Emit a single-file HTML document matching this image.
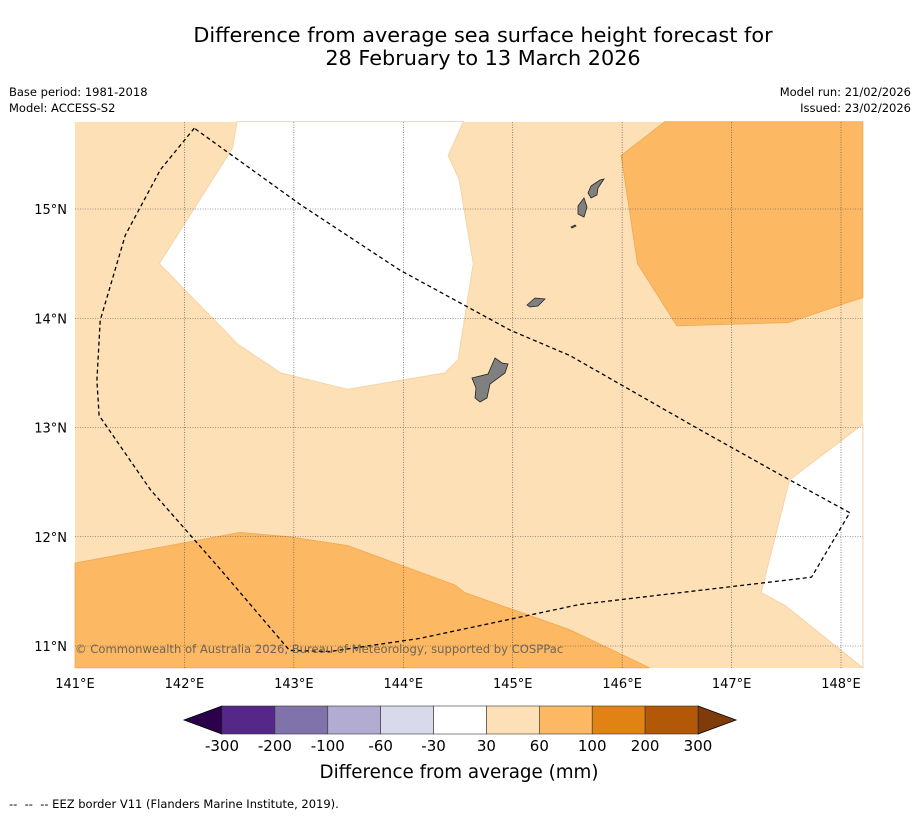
<!DOCTYPE html>
<html><head><meta charset="utf-8">
<style>
body{margin:0;background:#fff;width:919px;height:816px;overflow:hidden;font-family:"Liberation Sans","DejaVu Sans",sans-serif;}
</style></head>
<body>
<svg id="chart" width="919" height="816" xmlns="http://www.w3.org/2000/svg" font-family="'DejaVu Sans','Liberation Sans',sans-serif">
<text x="483" y="42" text-anchor="middle" font-size="20.8">Difference from average sea surface height forecast for</text>
<text x="483" y="65" text-anchor="middle" font-size="20.8">28 February to 13 March 2026</text>
<text x="9" y="96" font-size="11.5">Base period: 1981-2018</text>
<text x="9" y="112" font-size="11.5">Model: ACCESS-S2</text>
<text x="911" y="96" font-size="11.5" text-anchor="end">Model run: 21/02/2026</text>
<text x="911" y="112" font-size="11.5" text-anchor="end">Issued: 23/02/2026</text>
<g id="map"></g>
<g id="cbar"></g>
<text x="459" y="778" text-anchor="middle" font-size="18.3">Difference from average (mm)</text>
<text x="9" y="808" font-size="11.5" xml:space="preserve">--  --  -- EEZ border V11 (Flanders Marine Institute, 2019).</text>
</svg>
<script>
const lonTicks=[141,142,143,144,145,146,147,148];
const latTicks=[11,12,13,14,15];
const whiteNW=[[142.48,15.8],[142.44,15.56],[141.77,14.5],[142.49,13.76],[142.88,13.5],[143.49,13.35],[144.38,13.5],[144.5,13.62],[144.64,14.5],[144.51,15.27],[144.41,15.49],[144.55,15.8]];
const orangeNE=[[146.39,15.8],[145.99,15.49],[146.14,14.5],[146.5,13.93],[147.52,13.96],[148.2,14.19],[148.2,15.8]];
const whiteE=[[148.2,13.03],[147.53,12.52],[147.27,11.49],[147.49,11.37],[148.05,10.92],[148.2,10.8]];
const orangeS=[[141,11.76],[142.51,12.04],[142.96,12.0],[143.49,11.92],[144.47,11.56],[144.56,11.49],[145.52,11.15],[146.25,10.8],[141,10.8]];
const eez=[[142.09,15.74],[141.78,15.36],[141.46,14.76],[141.23,13.98],[141.2,13.43],[141.22,13.11],[141.69,12.43],[142.33,11.7],[142.96,10.96],[143.33,10.95],[144.15,11.07],[145.61,11.38],[147.73,11.63],[148.08,12.22],[147.53,12.52],[146.71,12.98],[145.52,13.66],[144.98,13.89],[143.97,14.44],[143.06,15.04],[142.09,15.74]];
const cbLevels=["-300","-200","-100","-60","-30","30","60","100","200","300"];
const cbColors=["#542788","#8073ac","#b2abd2","#d8daeb","#ffffff","#fee0b6","#fdb863","#e08214","#b35806"];
const NS="http://www.w3.org/2000/svg";
const X0=75,X1=863,Y0=122,Y1=668;
const xs=lon=>75+(lon-141)*109.43;
const ys=lat=>209-(lat-15)*109.25;
function mk(tag,attrs,parent){const e=document.createElementNS(NS,tag);for(const k in attrs)e.setAttribute(k,attrs[k]);parent.appendChild(e);return e;}
const map=document.getElementById('map');
mk('rect',{x:X0,y:Y0,width:X1-X0,height:Y1-Y0,fill:'#fee0b6'},map);
const pts=a=>a.map(p=>xs(p[0]).toFixed(1)+','+ys(p[1]).toFixed(1)).join(' ');
let p;
p=mk('polygon',{points:pts(whiteNW),fill:'#fff',stroke:'#f5d3a8','stroke-width':1},map);


p=mk('polygon',{points:pts(orangeNE),fill:'#fdb863',stroke:'#f0a850','stroke-width':0.8},map);


p=mk('polygon',{points:pts(whiteE),fill:'#fff',stroke:'#f5d3a8','stroke-width':1},map);


p=mk('polygon',{points:pts(orangeS),fill:'#fdb863',stroke:'#f0a850','stroke-width':0.8},map);


lonTicks.forEach(l=>{const x=xs(l);
 if(l>141){const g=mk('line',{x1:x,x2:x,y1:Y0,y2:Y1,stroke:'#444','stroke-width':0.6,'stroke-dasharray':'1,1.5'},map);
 
 }
 const t=mk('text',{x:x,y:688,'text-anchor':'middle','font-size':13},map);t.textContent=l+'°E';
 
 
});
latTicks.forEach(l=>{const y=ys(l);
 const g=mk('line',{x1:X0,x2:X1,y1:y,y2:y,stroke:'#444','stroke-width':0.6,'stroke-dasharray':'1,1.5'},map);
 
 
 const t=mk('text',{x:67,y:y+5,'text-anchor':'end','font-size':13},map);t.textContent=l+'°N';
 
 
});
const isl=[["guam","472,378 488,374 495,358 502,363 508,364 505,373 490,384 487,398 480,402 475,398 476,388"],
["saipan","591,186 600,180 604,179 598,188 597,195 591,198 588,193"],
["tinian","578,206 584,198 587,207 584,217 578,214"],
["rota","527,305 535,298 545,299 538,306 530,307"],
["aguijan","571,227 575,225 576,226 572,228"]];
isl.forEach(i=>{const e=mk('polygon',{points:i[1],fill:'#808080',stroke:'#222','stroke-width':0.8},map);
 
 });
p=mk('polyline',{points:pts(eez),fill:'none',stroke:'#000','stroke-width':1.3,'stroke-dasharray':'4,3'},map);


const c=mk('text',{x:75,y:653,'font-size':11.6,fill:'#555','fill-opacity':0.85},map);c.textContent='© Commonwealth of Australia 2026, Bureau of Meteorology, supported by COSPPac';


const cb=document.getElementById('cbar');
const CB0=222,CB1=698,CY0=706,CY1=734,segW=(CB1-CB0)/cbColors.length;
p=mk('polygon',{points:`${CB0},${CY0} 184,${(CY0+CY1)/2} ${CB0},${CY1}`,fill:'#2d004b',stroke:'#000','stroke-width':0.8},cb);


p=mk('polygon',{points:`${CB1},${CY0} 736,${(CY0+CY1)/2} ${CB1},${CY1}`,fill:'#7f3b08',stroke:'#000','stroke-width':0.8},cb);


cbColors.forEach((col,i)=>{const r=mk('rect',{x:CB0+i*segW,y:CY0,width:segW,height:CY1-CY0,fill:col,stroke:'#333','stroke-width':0.6},cb);
 
 });
cbLevels.forEach((l,i)=>{const t=mk('text',{x:CB0+i*segW,y:751,'text-anchor':'middle','font-size':15},cb);t.textContent=l;
 
 });
</script>
</body></html>
